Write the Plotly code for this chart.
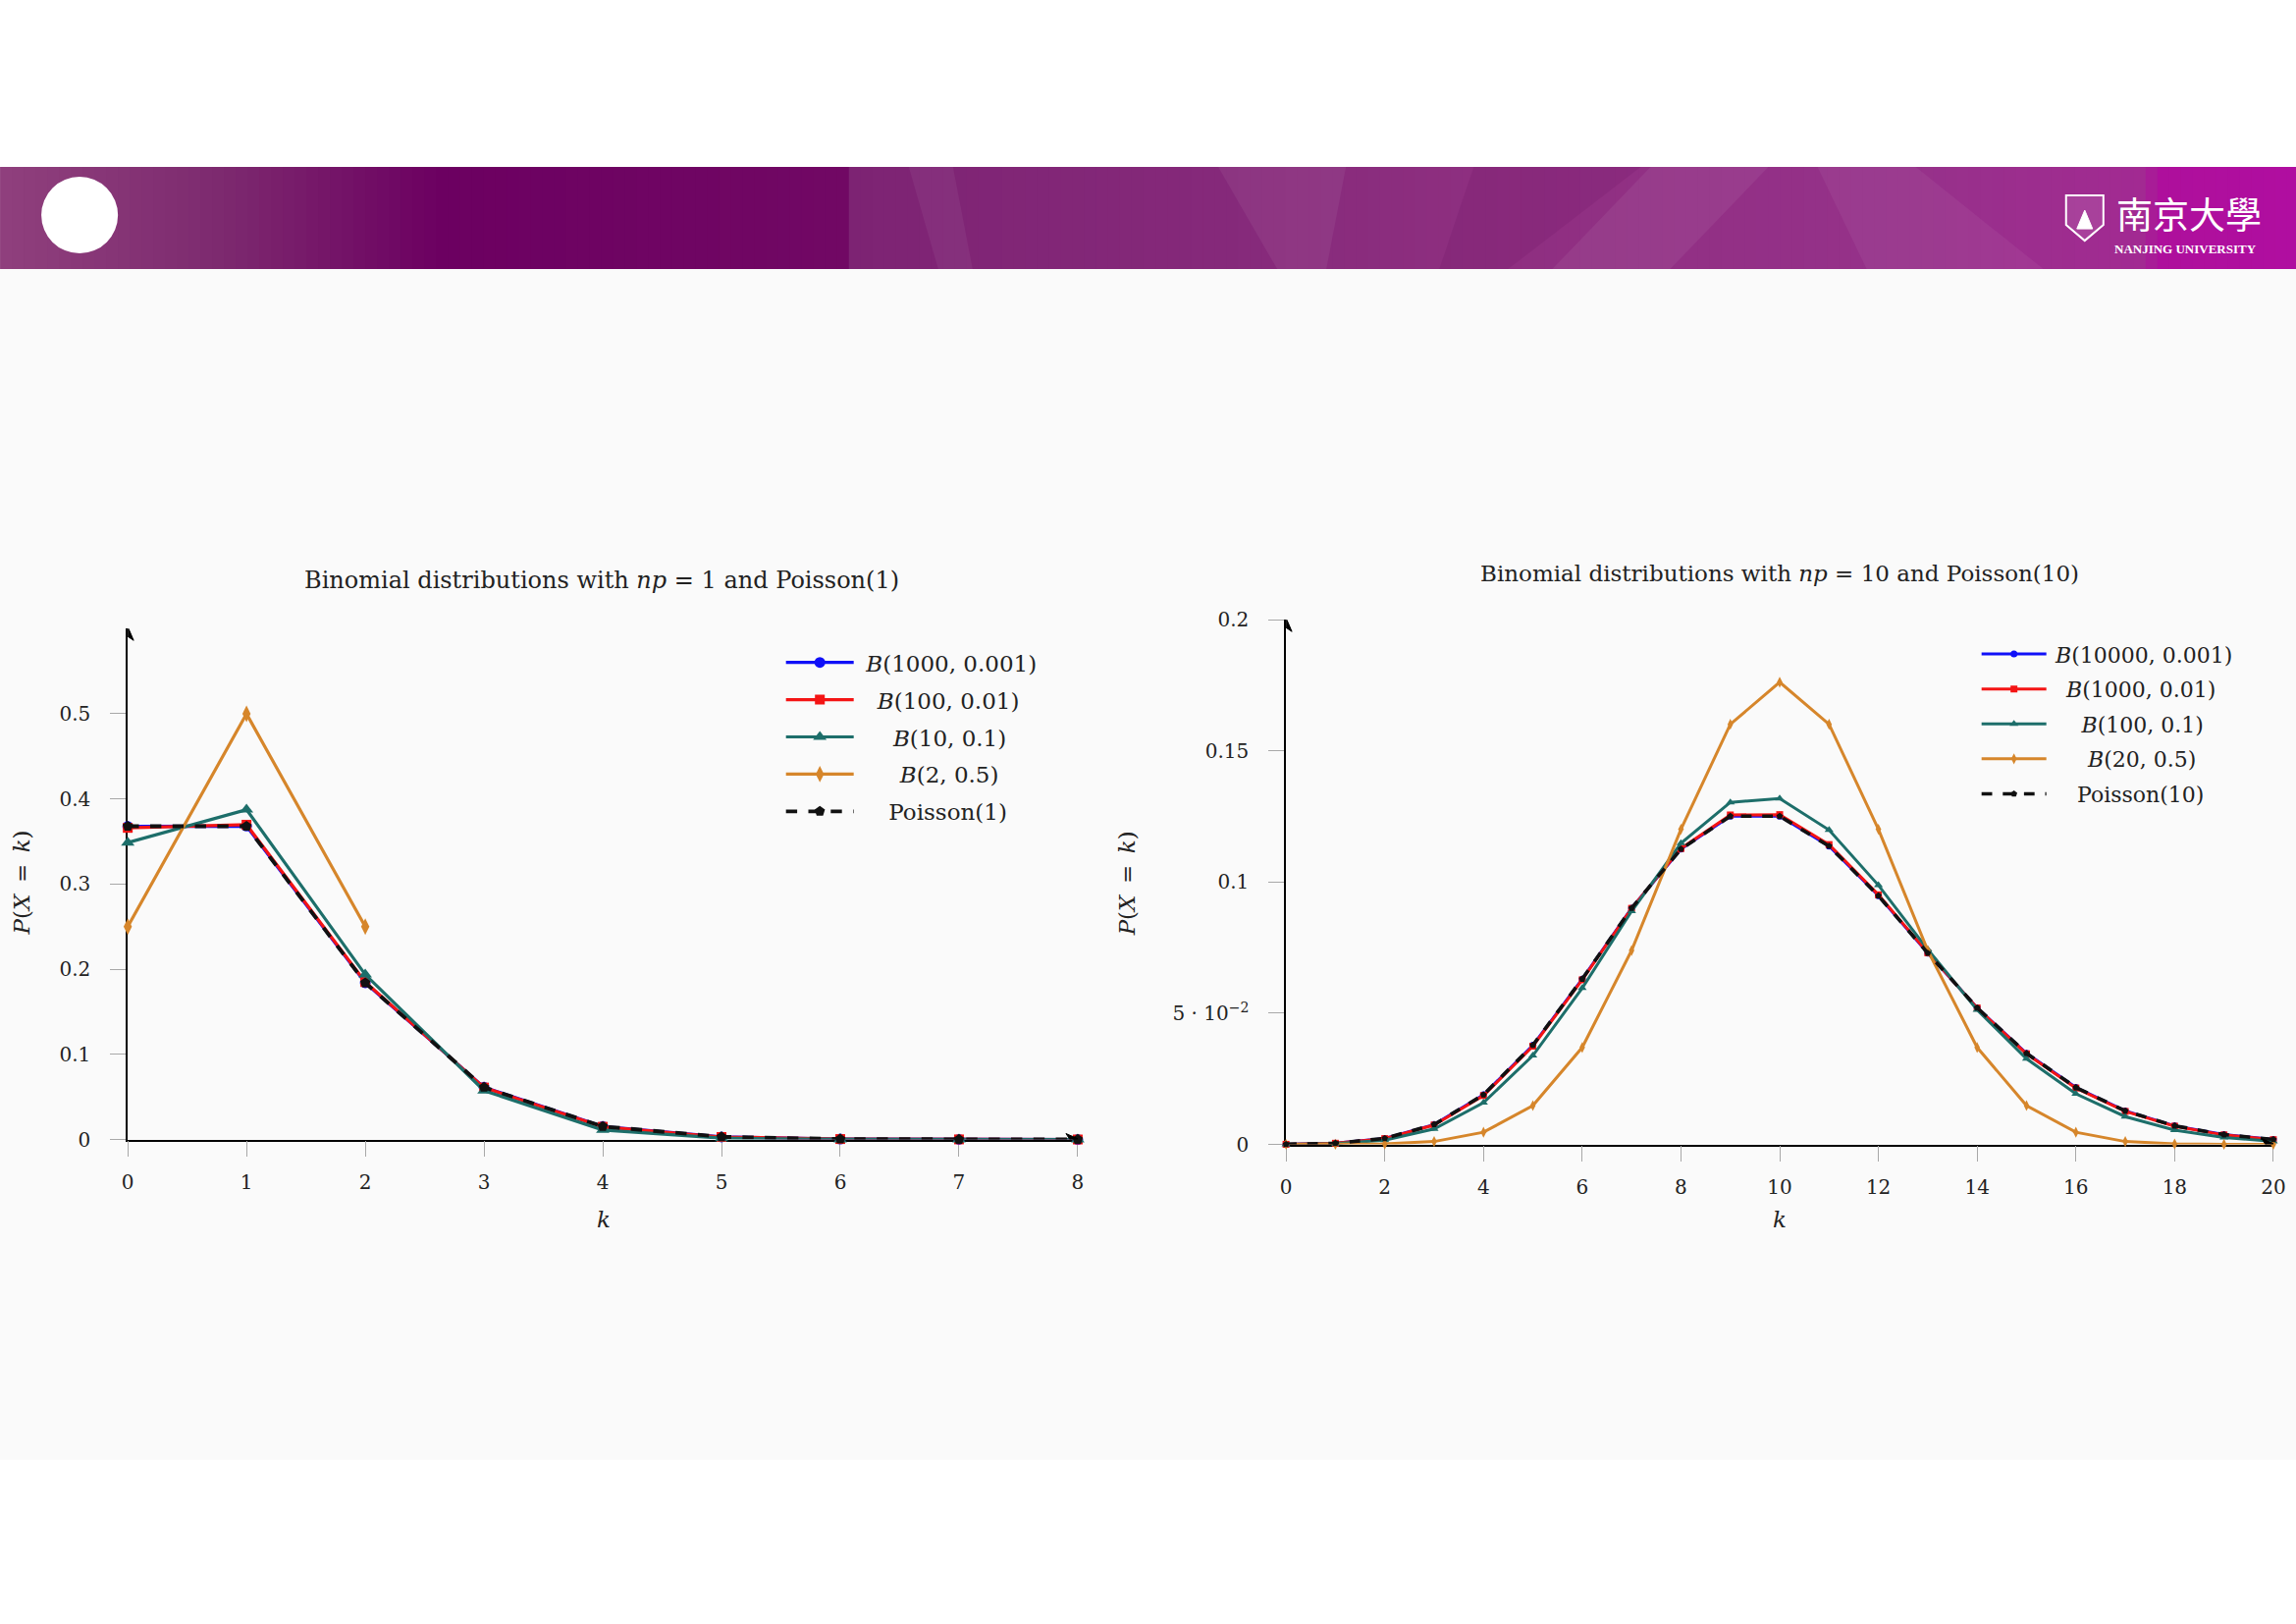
import plotly.graph_objects as go

W, H = 2339, 1654

# ---------------- data ----------------
k_left = [0, 1, 2, 3, 4, 5, 6, 7, 8]
b_1000_0001 = [0.3677, 0.3681, 0.1840, 0.0613, 0.0153, 0.0030, 0.0005, 0.0001, 0.0000]
b_100_001 = [0.3660, 0.3697, 0.1849, 0.0610, 0.0149, 0.0029, 0.0005, 0.0001, 0.0000]
b_10_01 = [0.3487, 0.3874, 0.1937, 0.0574, 0.0112, 0.0015, 0.0001, 0.0000, 0.0000]
k_b2 = [0, 1, 2]
b_2_05 = [0.25, 0.50, 0.25]
pois_1 = [0.3679, 0.3679, 0.1839, 0.0613, 0.0153, 0.0031, 0.0005, 0.0001, 0.0000]

k_right = list(range(21))
b_10000_0001 = [0.00005, 0.00045, 0.00226, 0.00755, 0.01890, 0.03780, 0.06303, 0.09007,
                0.11260, 0.12512, 0.12513, 0.11376, 0.09480, 0.07292, 0.05208, 0.03471,
                0.02169, 0.01275, 0.00708, 0.00372, 0.00186]
b_1000_001 = [0.00004, 0.00044, 0.00220, 0.00739, 0.01861, 0.03745, 0.06274, 0.08999,
              0.11282, 0.12561, 0.12574, 0.11431, 0.09516, 0.07305, 0.05202, 0.03454,
              0.02148, 0.01256, 0.00693, 0.00362, 0.00179]
b_100_01 = [0.00003, 0.00030, 0.00162, 0.00589, 0.01590, 0.03387, 0.05958, 0.08890,
            0.11482, 0.13042, 0.13187, 0.11988, 0.09879, 0.07430, 0.05130, 0.03268,
            0.01929, 0.01059, 0.00543, 0.00260, 0.00117]
b_20_05 = [0.000001, 0.00002, 0.00018, 0.00109, 0.00462, 0.01479, 0.03696, 0.07393,
           0.12013, 0.16018, 0.17620, 0.16018, 0.12013, 0.07393, 0.03696, 0.01479,
           0.00462, 0.00109, 0.00018, 0.00002, 0.000001]
pois_10 = [0.00005, 0.00045, 0.00227, 0.00757, 0.01892, 0.03783, 0.06306, 0.09008,
           0.11260, 0.12511, 0.12511, 0.11374, 0.09478, 0.07291, 0.05208, 0.03472,
           0.02170, 0.01276, 0.00709, 0.00373, 0.00187]

left_ticks_y = [0, 0.1, 0.2, 0.3, 0.4, 0.5]
left_ticktext_y = ["0", "0.1", "0.2", "0.3", "0.4", "0.5"]
right_ticks_y = [0, 0.05, 0.1, 0.15, 0.2]
right_ticktext_y = ["0", "5 · 10<sup>−2</sup>", "0.1", "0.15", "0.2"]

BLUE = "#1010f8"
RED = "#f41414"
TEAL = "#1d6e6a"
ORANGE = "#d6862b"
BLACK = "#111111"
FONT = "DejaVu Serif"
TXT = "#222222"
EN = "\u2002"
TH = "\u2009"
GAP = "\u2004"


# positions below are in pixels of the original slide; the small correction
# keeps them where the original has them once the page is photographed
def fx(px):
    return (px * 1.00901 - 6.0) / W


def fy(py):
    return 1 - (py * 1.01521 - 11.2) / H


fig = go.Figure()

# ---------------- left chart ----------------
left_series = [
    (b_1000_0001, k_left, "<i>B</i>(1000, 0.001)", BLUE, "circle", 11, "solid"),
    (b_100_001, k_left, EN + "<i>B</i>(100, 0.01)", RED, "square", 10, "solid"),
    (b_10_01, k_left, EN * 2 + TH + "<i>B</i>(10, 0.1)", TEAL, "triangle-up", 12, "solid"),
    (b_2_05, k_b2, EN * 3 + "<i>B</i>(2, 0.5)", ORANGE, "diamond-tall", 12, "solid"),
    (pois_1, k_left, EN * 2 + "Poisson(1)", BLACK, "pentagon", 11, "dash"),
]
for i, (vals, ks, name, col, sym, ms, dash) in enumerate(left_series):
    fig.add_trace(go.Scatter(
        x=ks, y=vals, name=GAP + name, mode="lines+markers",
        line=dict(color=col, width=3.8 if dash == "dash" else 3.2, dash=dash),
        marker=dict(symbol=sym, size=ms, color=col),
        xaxis="x", yaxis="y", legend="legend", legendgroup="l%d" % i,
        cliponaxis=False,
    ))

# ---------------- right chart ----------------
right_series = [
    (b_10000_0001, "<i>B</i>(10000, 0.001)", BLUE, "circle", 7, "solid"),
    (b_1000_001, EN + "<i>B</i>(1000, 0.01)", RED, "square", 7, "solid"),
    (b_100_01, EN * 2 + TH + "<i>B</i>(100, 0.1)", TEAL, "triangle-up", 8, "solid"),
    (b_20_05, EN * 3 + "<i>B</i>(20, 0.5)", ORANGE, "diamond-tall", 8, "solid"),
    (pois_10, EN * 2 + "Poisson(10)", BLACK, "pentagon", 7, "dash"),
]
for i, (vals, name, col, sym, ms, dash) in enumerate(right_series):
    fig.add_trace(go.Scatter(
        x=k_right, y=vals, name=TH + name, mode="lines+markers",
        line=dict(color=col, width=3.6 if dash == "dash" else 3.0, dash=dash),
        marker=dict(symbol=sym, size=ms, color=col),
        xaxis="x2", yaxis="y2", legend="legend2", legendgroup="r%d" % i,
        cliponaxis=False,
    ))

axis_common = dict(
    showgrid=False, zeroline=False, showline=True, linecolor="black", linewidth=1.6,
    layer="below traces",
    ticks="outside", ticklen=16, tickwidth=1.2, tickcolor="#a8a8a8",
    tickfont=dict(family=FONT, size=20, color=TXT),
)

fig.update_layout(
    width=W, height=H,
    margin=dict(l=0, r=0, t=0, b=0),
    paper_bgcolor="white", plot_bgcolor="rgba(0,0,0,0)",
    xaxis=dict(domain=[fx(130), fx(1097)], range=[0, 8], ticklabelstandoff=9,
               tickvals=k_left, anchor="y", **axis_common),
    yaxis=dict(domain=[fy(1159), fy(639)], range=[0, 0.6], ticklabelstandoff=16,
               tickvals=left_ticks_y, ticktext=left_ticktext_y, anchor="x", **axis_common),
    xaxis2=dict(domain=[fx(1309), fx(2314)], range=[0, 20], ticklabelstandoff=9,
                tickvals=list(range(0, 21, 2)), anchor="y2", **axis_common),
    yaxis2=dict(domain=[fy(1164), fy(630)], range=[0, 0.2], ticklabelstandoff=16,
                tickvals=right_ticks_y, ticktext=right_ticktext_y, anchor="x2", **axis_common),
    legend=dict(x=fx(795), y=fy(652), xanchor="left", yanchor="top",
                bgcolor="rgba(0,0,0,0)", font=dict(family=FONT, size=23, color=TXT),
                tracegroupgap=5, itemwidth=69),
    legend2=dict(x=fx(2012), y=fy(644), xanchor="left", yanchor="top",
                 bgcolor="rgba(0,0,0,0)", font=dict(family=FONT, size=22, color=TXT),
                 tracegroupgap=4, itemwidth=66),
    showlegend=True,
)

# ---------------- page decoration ----------------
shapes = []
# faint content background
shapes.append(dict(type="rect", xref="paper", yref="paper", x0=fx(0), x1=fx(2339), y0=fy(1485), y1=fy(273),
                   fillcolor="#fafafa", line=dict(width=0), layer="below"))

# header band (gradient built from thin strips)
stops = [(0, (143, 64, 125)), (224, (125, 42, 111)), (448, (108, 0, 97)), (858, (113, 8, 100)),
         (859, (125, 35, 115)), (1240, (133, 41, 122)), (1500, (142, 47, 128)),
         (1950, (150, 49, 138)), (2180, (162, 42, 146)), (2200, (174, 15, 156)), (2339, (176, 14, 160))]


def band_color(px):
    for (xa, ca), (xb, cb) in zip(stops[:-1], stops[1:]):
        if xa <= px <= xb:
            t = (px - xa) / (xb - xa) if xb > xa else 0
            return "rgb(%d,%d,%d)" % tuple(round(a + (b - a) * t) for a, b in zip(ca, cb))
    return "rgb(176,14,160)"


step = 12
for x0 in range(0, W, step):
    shapes.append(dict(type="rect", xref="paper", yref="paper",
                       x0=fx(x0), x1=fx(min(x0 + step + 1, W)), y0=fy(273), y1=fy(169),
                       fillcolor=band_color(x0 + step / 2), line=dict(width=0), layer="below"))

# diagonal facets in the band
facets = [
    ([(925, 169), (970, 169), (990, 273), (955, 273)], "rgba(255,255,255,0.05)"),
    ([(1240, 169), (1370, 169), (1350, 273), (1300, 273)], "rgba(255,255,255,0.06)"),
    ([(1500, 169), (1670, 169), (1535, 273), (1465, 273)], "rgba(90,0,80,0.12)"),
    ([(1680, 169), (1800, 169), (1700, 273), (1580, 273)], "rgba(255,255,255,0.06)"),
    ([(1850, 169), (1950, 169), (2080, 273), (1900, 273)], "rgba(255,255,255,0.05)"),
]
for pts, col in facets:
    path = "M " + " L ".join("%.5f,%.5f" % (fx(a), fy(b)) for a, b in pts) + " Z"
    shapes.append(dict(type="path", xref="paper", yref="paper", path=path,
                       fillcolor=col, line=dict(width=0), layer="below"))

# white circle
shapes.append(dict(type="circle", xref="paper", yref="paper",
                   x0=fx(42), x1=fx(120), y0=fy(257), y1=fy(179),
                   fillcolor="white", line=dict(width=0)))

# shield of the logo
shield = [(2103, 198), (2141, 198), (2141, 228), (2122, 244), (2103, 228)]
path = "M " + " L ".join("%.5f,%.5f" % (fx(a), fy(b)) for a, b in shield) + " Z"
shapes.append(dict(type="path", xref="paper", yref="paper", path=path,
                   fillcolor="rgba(255,255,255,0.1)", line=dict(color="white", width=2)))
tri = [(2122, 213), (2130, 232), (2114, 232)]
path = "M " + " L ".join("%.5f,%.5f" % (fx(a), fy(b)) for a, b in tri) + " Z"
shapes.append(dict(type="path", xref="paper", yref="paper", path=path,
                   fillcolor="white", line=dict(color="white", width=1)))

# arrow tips at the ends of the axis lines (sized in pixels)
for xr, yr, xmax, ymax in (("x", "y", 8, 0.6), ("x2", "y2", 20, 0.2)):
    shapes.append(dict(type="path", xref=xr, yref=yr, xsizemode="pixel", ysizemode="pixel",
                       xanchor=0, yanchor=ymax, path="M0,2 L-6,-12 L0,-8 L6,-12 Z",
                       fillcolor="black", line=dict(color="black", width=1)))
    shapes.append(dict(type="path", xref=xr, yref=yr, xsizemode="pixel", ysizemode="pixel",
                       xanchor=xmax, yanchor=0, path="M2,0 L-12,6 L-8,0 L-12,-6 Z",
                       fillcolor="black", line=dict(color="black", width=1)))
fig.update_layout(shapes=shapes)

# ---------------- text ----------------
ann = []


def label(x, y, text, size, family=FONT, color=TXT, angle=0):
    ann.append(dict(xref="paper", yref="paper", x=fx(x), y=fy(y), text=text,
                    xanchor="center", yanchor="middle", textangle=angle,
                    showarrow=False, font=dict(family=family, size=size, color=color)))


label(2228, 216, "南京大學", 37, "Noto Sans CJK TC", "white")
label(2225, 252, "<b>NANJING UNIVERSITY</b>", 13, "Liberation Serif", "white")

label(612, 590, "Binomial distributions with <i>np</i> = 1 and Poisson(1)", 24)
label(1811, 583, "Binomial distributions with <i>np</i> = 10 and Poisson(10)", 23)
for xc in (614, 1811):
    label(xc, 1240, "<i>k</i>", 23)
for xc in (22, 1147):
    label(xc, 898, "<i>P</i>(<i>X</i>" + EN + "=" + EN + "<i>k</i>)", 23, angle=-90)
fig.update_layout(annotations=ann)

fig.write_html(
    "out.html",
    config={"displayModeBar": False},
    post_script=("document.body.style.margin='0';document.body.style.overflow='hidden';"
                 "document.documentElement.style.overflow='hidden';"),
)
